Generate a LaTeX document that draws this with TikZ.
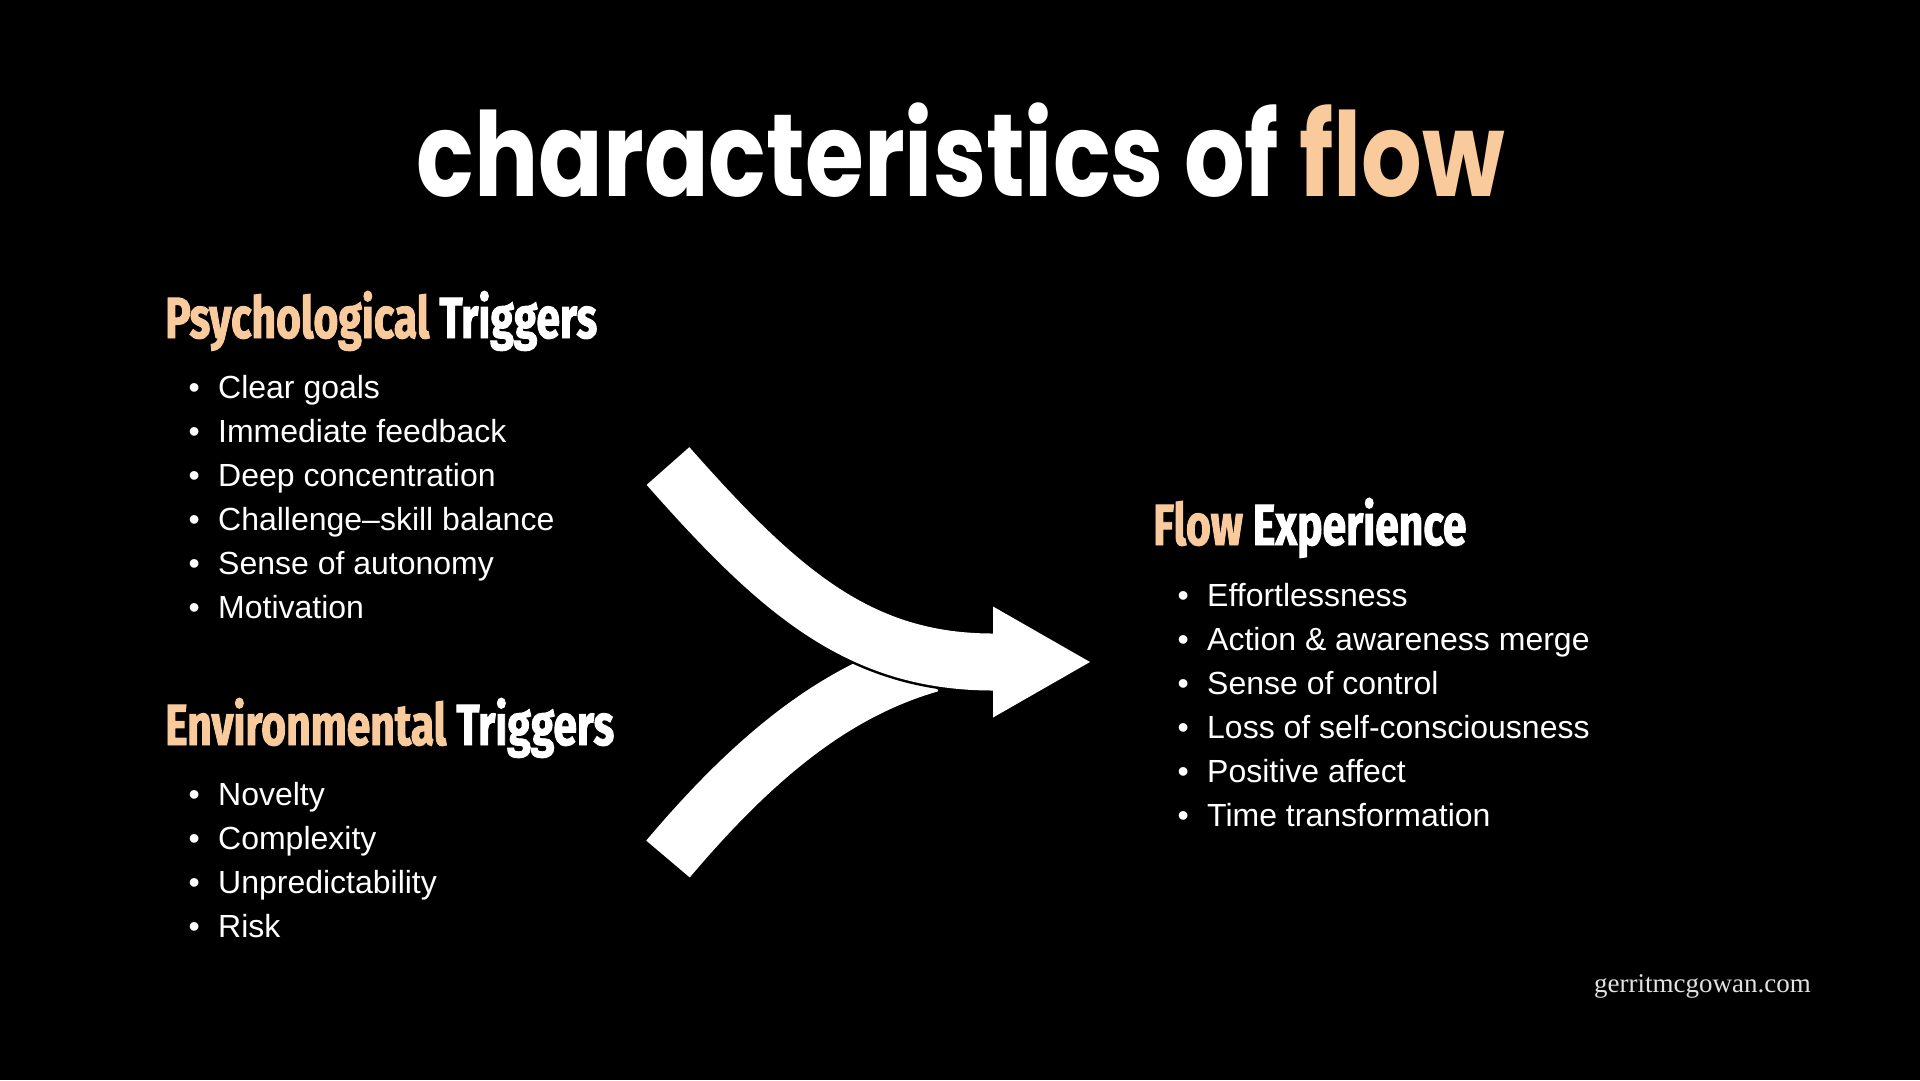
\documentclass[tikz,border=0pt]{standalone}
\usepackage{fontspec}
\setmainfont{Liberation Sans}
\newfontfamily\titlefont[FakeStretch=0.815]{Poppins}
\newfontfamily\headfont[FakeStretch=0.735, FakeBold=1.6]{Fira Sans}
\newfontfamily\sitefont{Liberation Serif}
\usetikzlibrary{arrows.meta, positioning, calc}
\definecolor{peach}{RGB}{249,203,156}
\definecolor{sitegrey}{RGB}{225,225,225}
\newcommand{\bul}{\textbullet\hspace{18.4pt}}
\tikzset{
  maintitle/.style={font=\titlefont\bfseries\fontsize{117}{117}\selectfont, text=white, inner sep=0pt, anchor=base},
  headtext/.style={font=\headfont\bfseries\fontsize{58}{58}\selectfont, text=white, inner sep=0pt, anchor=base west},
  listitem/.style={font=\fontsize{32}{44}\selectfont, text=white, inner sep=0pt, anchor=base west},
  flowband/.style={line width=57pt, white},
  bandgap/.style={line width=62pt, black}
}

\begin{document}
\begin{tikzpicture}[x=1pt, y=-1pt]
  % Background
  \fill[black] (0,0) rectangle (1920,1080);
  \useasboundingbox (0,0) rectangle (1920,1080);

  % Title
  \node[maintitle] (title) at (961,196) {characteristics of \textcolor{peach}{flow}};

  % Psychological triggers
  \node[headtext] (psyhead) at (165,338) {\textcolor{peach}{Psychological} Triggers};
  \node[listitem] (psy1) at (188.4,398) {\bul Clear goals};
  \node[listitem] (psy2) at (188.4,442) {\bul Immediate feedback};
  \node[listitem] (psy3) at (188.4,486) {\bul Deep concentration};
  \node[listitem] (psy4) at (188.4,530) {\bul Challenge--skill balance};
  \node[listitem] (psy5) at (188.4,574) {\bul Sense of autonomy};
  \node[listitem] (psy6) at (188.4,618) {\bul Motivation};

  % Environmental triggers
  \node[headtext] (envhead) at (165,745) {\textcolor{peach}{Environmental} Triggers};
  \node[listitem] (env1) at (188.4,805) {\bul Novelty};
  \node[listitem] (env2) at (188.4,849) {\bul Complexity};
  \node[listitem] (env3) at (188.4,893) {\bul Unpredictability};
  \node[listitem] (env4) at (188.4,937) {\bul Risk};

  % Flow experience
  \node[headtext] (flowhead) at (1153,545) {\textcolor{peach}{Flow} Experience};
  \node[listitem] (flow1) at (1177.4,606) {\bul Effortlessness};
  \node[listitem] (flow2) at (1177.4,650) {\bul Action \& awareness merge};
  \node[listitem] (flow3) at (1177.4,694) {\bul Sense of control};
  \node[listitem] (flow4) at (1177.4,738) {\bul Loss of self-consciousness};
  \node[listitem] (flow5) at (1177.4,782) {\bul Positive affect};
  \node[listitem] (flow6) at (1177.4,826) {\bul Time transformation};

  % Merging arrows
  \coordinate (envstart) at (668,859);
  \coordinate (envend) at (930,664);
  \coordinate (psystart) at (668,466);
  \coordinate (headbase) at (993,662);
  \coordinate (flowtip) at (1090,662);

  \draw[flowband] (envstart) .. controls (760,750) and (840,690) .. (envend);
  \draw[bandgap] (psystart) .. controls (780,593) and (860,662) .. (headbase);
  \draw[flowband] (psystart) .. controls (780,593) and (860,662) .. (headbase);
  \fill[white] ($(headbase)+(0,-55.5)$) -- (flowtip) -- ($(headbase)+(0,55.5)$) -- cycle;

  % Site name
  \node[font=\sitefont\fontsize{27}{27}\selectfont, text=sitegrey, inner sep=0pt, anchor=base east] (site) at (1811,992) {gerritmcgowan.com};
\end{tikzpicture}
\end{document}
